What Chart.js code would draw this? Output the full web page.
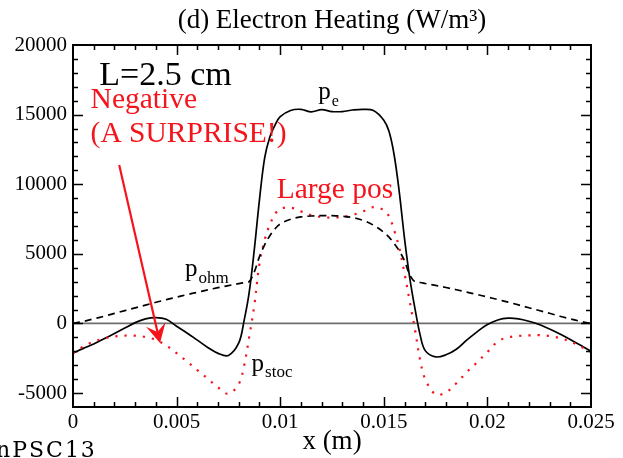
<!DOCTYPE html>
<html>
<head>
<meta charset="utf-8">
<script src="https://cdn.jsdelivr.net/npm/chart.js@4/dist/chart.umd.min.js"></script>
<style>
  html, body { margin: 0; background: #fff; }
</style>
</head>
<body>
<canvas id="c" width="623" height="458"></canvas>
<script>
// x positions (m), shared by all three curves
const xs = [0, 0.0005, 0.001, 0.0015, 0.002, 0.0025, 0.003, 0.0035, 0.004, 0.0045,
  0.005, 0.0055, 0.006, 0.0065, 0.007, 0.0075, 0.008, 0.00825, 0.0085, 0.00875,
  0.009, 0.00925, 0.0095, 0.00975, 0.01, 0.0105, 0.011, 0.0115, 0.012, 0.0125,
  0.013, 0.0135, 0.014, 0.0145, 0.015, 0.01525, 0.0155, 0.01575, 0.016, 0.01625,
  0.0165, 0.01675, 0.017, 0.0175, 0.018, 0.0185, 0.019, 0.0195, 0.02, 0.0205,
  0.021, 0.0215, 0.022, 0.0225, 0.023, 0.0235, 0.024, 0.0245, 0.025];

// p_e total (solid)
const pe = [-2130, -1790, -1480, -1100, -720, -330, 60, 330, 420, 300,
  -200, -680, -1200, -1720, -2150, -2300, -1400, 150, 2200, 5300,
  8900, 11900, 13400, 14250, 14850, 15300, 15380, 15200, 15360, 15220,
  15220, 15330, 15380, 15300, 14600, 13800, 12100, 9400, 6100, 3300,
  1100, -800, -1950, -2400, -2250, -1850, -1200, -600, -80, 250,
  380, 330, 160, -80, -400, -760, -1150, -1560, -2010];

// p_ohm (dashed)
const pohm = [0, 150, 330, 520, 720, 920, 1120, 1320, 1520, 1710,
  1890, 2070, 2240, 2410, 2570, 2720, 2860, 2930, 3000, 3700,
  4800, 5650, 6300, 6800, 7150, 7480, 7650, 7720, 7750, 7740,
  7700, 7600, 7400, 7060, 6550, 6200, 5750, 5200, 4500, 3500,
  3000, 2940, 2870, 2730, 2580, 2420, 2250, 2080, 1900, 1720,
  1530, 1330, 1130, 930, 730, 520, 330, 150, 0];

// p_stoc (dotted red)
const pstoc = [-2130, -1650, -1300, -1080, -930, -870, -880, -970, -1180, -1580,
  -2130, -2730, -3350, -3960, -4600, -5050, -4350, -3100, -1000, 1300,
  4300, 6000, 7100, 7850, 8230, 8320, 8050, 7780, 7650, 7600,
  7650, 7800, 8050, 8350, 8150, 7700, 6700, 5400, 3600, 1600,
  -400, -2600, -4000, -5100, -4950, -4300, -3500, -2800, -2050, -1300,
  -1000, -900, -860, -840, -900, -1050, -1300, -1650, -2050];

const xMin = 0, xMax = 0.025, xMinor = 0.001, xMajor = 0.005;
const yMin = -6000, yMax = 20000, yMinor = 1000, yMajor = 5000;

const RED = '#f5141c';
const SERIF = '"Liberation Serif", "Times New Roman", serif';

function pts(ys) {
  return xs.map((x, i) => ({ x: x, y: ys[i] }));
}

function stepTicks(min, max, step) {
  const out = [];
  const n = Math.round((max - min) / step);
  for (let i = 0; i <= n; i++) out.push({ value: +(min + i * step).toFixed(6) });
  return out;
}

// inward ticks on all four sides + frame + zero line
const frame = {
  id: 'frame',
  beforeDatasetsDraw(chart) {
    const { ctx, chartArea: a, scales: { y } } = chart;
    const py = y.getPixelForValue(0);
    ctx.save();
    ctx.strokeStyle = '#6e6e6e';
    ctx.lineWidth = 1.7;
    ctx.beginPath();
    ctx.moveTo(a.left, py);
    ctx.lineTo(a.right, py);
    ctx.stroke();
    ctx.restore();
  },
  afterDraw(chart) {
    const { ctx, chartArea: a, scales: { x, y } } = chart;
    ctx.save();
    ctx.strokeStyle = '#000';
    ctx.lineWidth = 1.5;
    ctx.beginPath();
    x.ticks.forEach(t => {
      if (t.value <= xMin || t.value >= xMax) return;
      const px = Math.round(x.getPixelForValue(t.value)) + 0.5;
      const len = Math.round(t.value / xMinor) % Math.round(xMajor / xMinor) === 0 ? 10 : 5;
      ctx.moveTo(px, a.bottom); ctx.lineTo(px, a.bottom - len);
      ctx.moveTo(px, a.top); ctx.lineTo(px, a.top + len);
    });
    y.ticks.forEach(t => {
      if (t.value <= yMin || t.value >= yMax) return;
      const py = Math.round(y.getPixelForValue(t.value)) + 0.5;
      const len = t.value % yMajor === 0 ? 10 : 5;
      ctx.moveTo(a.left, py); ctx.lineTo(a.left + len, py);
      ctx.moveTo(a.right, py); ctx.lineTo(a.right - len, py);
    });
    ctx.stroke();
    ctx.lineWidth = 2;
    ctx.strokeRect(a.left, a.top, a.right - a.left, a.bottom - a.top);
    ctx.restore();
  }
};

function subText(ctx, base, sub, x, y, size, subSize, color) {
  ctx.fillStyle = color;
  ctx.font = size + 'px ' + SERIF;
  ctx.fillText(base, x, y);
  const w = ctx.measureText(base).width;
  ctx.font = subSize + 'px ' + SERIF;
  ctx.fillText(sub, x + w + 1, y + subSize * 0.4);
}

// labels and the arrow
const notes = {
  id: 'notes',
  afterDraw(chart) {
    const { ctx, scales: { x, y } } = chart;
    const X = v => x.getPixelForValue(v), Y = v => y.getPixelForValue(v);
    const cx = (chart.chartArea.left + chart.chartArea.right) / 2;
    ctx.save();
    ctx.textBaseline = 'alphabetic';
    ctx.textAlign = 'center';
    ctx.fillStyle = '#000';
    ctx.font = '27px ' + SERIF;
    ctx.fillText('(d) Electron Heating (W/m\u00B3)', cx, 28);
    ctx.fillText('x (m)', cx, 449);

    ctx.textAlign = 'left';
    ctx.font = '22px "DejaVu Serif", serif';
    ctx.letterSpacing = '2px';
    ctx.fillText('nPSC13', -4, 457);
    ctx.letterSpacing = '0px';

    ctx.font = '34px ' + SERIF;
    ctx.fillText('L=2.5 cm', X(0.00127), Y(17120));

    ctx.fillStyle = RED;
    ctx.font = '29.5px ' + SERIF;
    ctx.fillText('Negative', X(0.00085), Y(15440));
    ctx.fillText('(A SURPRISE!)', X(0.00085), Y(13050));
    ctx.fillText('Large pos', X(0.00983), Y(8990));

    subText(ctx, 'p', 'e', X(0.01184), Y(16090), 25, 16, '#000');
    subText(ctx, 'p', 'ohm', X(0.0054), Y(3410), 25, 17, '#000');
    subText(ctx, 'p', 'stoc', X(0.00862), Y(-3380), 25, 17, '#000');

    // arrow from the "Negative" note down to the dotted curve
    const x0 = X(0.00223), y0 = Y(11380), x1 = X(0.0042), y1 = Y(-1410);
    const ang = Math.atan2(y1 - y0, x1 - x0);
    ctx.strokeStyle = RED;
    ctx.lineWidth = 2.2;
    ctx.beginPath();
    ctx.moveTo(x0, y0);
    ctx.lineTo(x1 - 8 * Math.cos(ang), y1 - 8 * Math.sin(ang));
    ctx.stroke();
    const L = 19, W = 10;
    const bx = x1 - L * Math.cos(ang), by = y1 - L * Math.sin(ang);
    const nx = -Math.sin(ang), ny = Math.cos(ang);
    const mx = x1 - L * 0.6 * Math.cos(ang), my = y1 - L * 0.6 * Math.sin(ang);
    ctx.fillStyle = RED;
    ctx.beginPath();
    ctx.moveTo(x1, y1);
    ctx.lineTo(bx + W * nx, by + W * ny);
    ctx.lineTo(mx, my);
    ctx.lineTo(bx - W * nx, by - W * ny);
    ctx.closePath();
    ctx.fill();
    ctx.restore();
  }
};

new Chart(document.getElementById('c'), {
  type: 'scatter',
  data: {
    datasets: [
      { label: 'p_ohm', data: pts(pohm), showLine: true, borderColor: '#000', borderWidth: 1.7,
        borderDash: [7, 5], pointRadius: 0, tension: 0.35 },
      { label: 'p_stoc', data: pts(pstoc), showLine: true, borderColor: RED, borderWidth: 2.2,
        borderDash: [2.2, 7], pointRadius: 0, tension: 0.35 },
      { label: 'p_e', data: pts(pe), showLine: true, borderColor: '#000', borderWidth: 1.7,
        pointRadius: 0, tension: 0.35 }
    ]
  },
  options: {
    responsive: false,
    animation: false,
    layout: { padding: { left: 0, top: 45, right: 32, bottom: 0 } },
    plugins: { legend: { display: false }, tooltip: { enabled: false }, title: { display: false } },
    scales: {
      x: {
        type: 'linear', min: xMin, max: xMax,
        afterBuildTicks: s => { s.ticks = stepTicks(xMin, xMax, xMinor); },
        afterFit: s => { s.height = 51; },
        grid: { display: false, drawTicks: false },
        border: { display: false },
        ticks: {
          autoSkip: false, maxRotation: 0, padding: 3, color: '#000',
          font: { family: SERIF, size: 21 },
          callback: v => Math.round(v / xMinor) % 5 === 0 ? String(+v.toFixed(3)) : ''
        }
      },
      y: {
        type: 'linear', min: yMin, max: yMax,
        afterBuildTicks: s => { s.ticks = stepTicks(yMin, yMax, yMinor); },
        afterFit: s => { s.width = 73; },
        grid: { display: false, drawTicks: false },
        border: { display: false },
        ticks: {
          autoSkip: false, padding: 6, color: '#000',
          font: { family: SERIF, size: 21 },
          callback: v => (v % yMajor === 0 && v > yMin) ? String(v) : ''
        }
      }
    }
  },
  plugins: [frame, notes]
});
</script>
</body>
</html>
